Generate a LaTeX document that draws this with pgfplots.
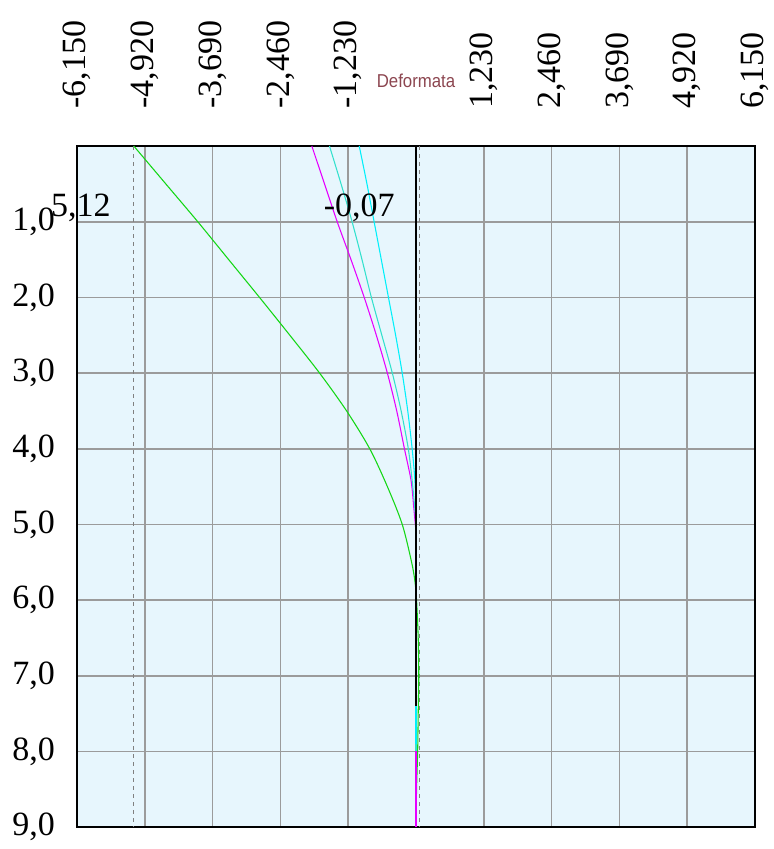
\documentclass[border=0pt]{standalone}
\usepackage{fontspec}
\setmainfont{Liberation Serif}
\newfontfamily\labfont[FakeStretch=0.9]{Liberation Sans}
\usepackage{pgfplots}
\pgfplotsset{compat=1.18}
\definecolor{bgblue}{RGB}{231,246,253}
\definecolor{gridgray}{RGB}{155,155,155}
\definecolor{cgreen}{RGB}{20,215,20}
\definecolor{cmag}{RGB}{230,0,255}
\definecolor{cturq}{RGB}{50,225,205}
\definecolor{ccyan}{RGB}{0,240,250}
\definecolor{labbrown}{RGB}{140,70,80}
\begin{document}
\begin{tikzpicture}
\begin{axis}[name=ax,
  width=508.5pt, height=510.75pt, scale only axis,
  xmin=-6.15, xmax=6.15, ymin=0, ymax=9, y dir=reverse,
  xtick={-6.15,-4.92,-3.69,-2.46,-1.23,1.23,2.46,3.69,4.92,6.15},
  xticklabels={{-6,150},{-4,920},{-3,690},{-2,460},{-1,230},{1,230},{2,460},{3,690},{4,920},{6,150}},
  xticklabel pos=top,
  xticklabel style={rotate=90, anchor=west, font=\fontsize{25.5}{25.5}\selectfont},
  xticklabel shift=24.5pt,
  ytick={1,2,3,4,5,6,7,8,9},
  yticklabels={{1,0},{2,0},{3,0},{4,0},{5,0},{6,0},{7,0},{8,0},{9,0}},
  yticklabel style={font=\fontsize{25.5}{25.5}\selectfont, xshift=-13pt},
  major tick length=0pt,
  grid=major,
  major grid style={gridgray, line width=1.25pt},
  axis line style={black, line width=1.2pt},
  axis background/.style={fill=bgblue},
  clip=false,
]
% dashed extreme lines
\addplot[gray, dashed, line width=0.7pt] coordinates {(-5.12,0) (-5.12,9)};
\addplot[gray, dashed, line width=0.7pt] coordinates {(0.07,0) (0.07,9)};
% green
\addplot[cgreen, line width=0.8pt, smooth] coordinates {
(-5.12,0) (-4.54,0.5) (-3.96,1) (-3.40,1.5) (-2.84,2) (-2.29,2.5) (-1.75,3) (-1.26,3.5) (-0.84,4) (-0.52,4.5) (-0.25,5) (-0.08,5.5) (-0.02,5.75) (0.01,6) (0.04,6.5) (0.05,7) (0.04,7.5) (0.03,8) (0.01,8.5) (0,9)};
% magenta
\addplot[cmag, line width=0.8pt, smooth] coordinates {
(-1.89,0) (-1.66,0.5) (-1.43,1) (-1.18,1.5) (-0.94,2) (-0.72,2.5) (-0.52,3) (-0.35,3.5) (-0.21,4) (-0.09,4.42) (-0.04,4.78) (0,5.1)};
\addplot[cmag, line width=0.8pt] coordinates {(0,5.1) (0,9)};
% turquoise
\addplot[cturq, line width=0.8pt, smooth] coordinates {
(-1.57,0) (-1.36,0.5) (-1.16,1) (-0.98,1.5) (-0.81,2) (-0.62,2.5) (-0.43,3) (-0.27,3.5) (-0.14,4) (-0.07,4.42) (-0.02,4.8) (0,5.0)};
\addplot[cturq, line width=0.8pt] coordinates {(0,5.0) (0,8.0)};
% cyan
\addplot[ccyan, line width=0.8pt, smooth] coordinates {
(-1.03,0) (-0.89,0.5) (-0.76,1) (-0.63,1.5) (-0.50,2) (-0.37,2.5) (-0.25,3) (-0.15,3.5) (-0.07,4) (-0.02,4.42) (0,4.8)};
\addplot[ccyan, line width=0.8pt] coordinates {(0,4.8) (0,7.9)};
% black zero line
\addplot[black, line width=0.8pt] coordinates {(0,0) (0,7.4)};
% annotations
\node[font=\fontsize{25.5}{25.5}\selectfont] at (axis cs:-6.08,0.82) {5,12};
\node[font=\fontsize{25.5}{25.5}\selectfont] at (axis cs:-1.03,0.82) {-0,07};
\node[font=\labfont\fontsize{14}{14}\selectfont, text=labbrown] at (axis cs:0,-0.86) {Deformata};
\end{axis}
\path ([shift={(-57.75pt,-16.5pt)}]ax.south west) rectangle ([shift={(14.25pt,109.5pt)}]ax.north east);
\end{tikzpicture}
\end{document}
